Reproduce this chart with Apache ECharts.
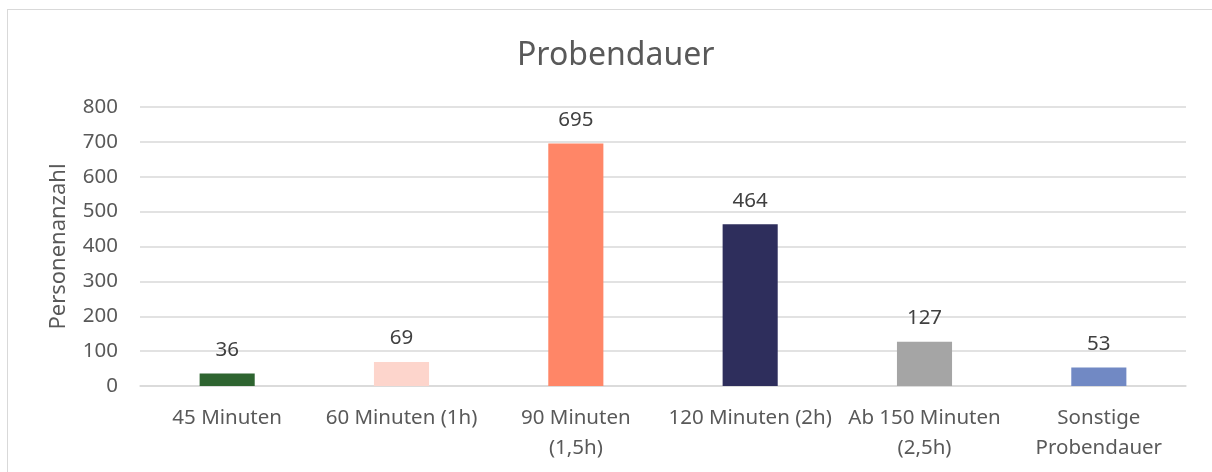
<!DOCTYPE html>
<html>
<head>
<meta charset="utf-8">
<script src="https://cdn.jsdelivr.net/npm/echarts@6/dist/echarts.min.js"></script>
<style>
  body { margin: 0; background: #fff; }
  #frame { position: absolute; left: 7px; top: 9px; width: 1230px; height: 490px; border: 1px solid #d9d9d9; }
  #chart { position: absolute; left: 0; top: 0; width: 1212px; height: 472px; }
</style>
</head>
<body>
<div id="frame"></div>
<div id="chart"></div>
<script>
// Daten
const categories = ['45 Minuten', '60 Minuten (1h)', '90 Minuten\n(1,5h)', '120 Minuten (2h)', 'Ab 150 Minuten\n(2,5h)', 'Sonstige\nProbendauer'];
const values = [36, 69, 695, 464, 127, 53];
const colors = ['#2e6430', '#fdd5cc', '#ff8667', '#2e2e5c', '#a5a5a5', '#7189c4'];

const chart = echarts.init(document.getElementById('chart'));
const font = '"Noto Sans", sans-serif';

chart.setOption({
  title: {
    text: 'Probendauer',
    left: 512,
    top: 35,
    textStyle: { fontFamily: font, fontSize: 32, fontWeight: 'normal', color: '#595959' }
  },
  grid: { left: 140, right: 26, top: 107, bottom: 86 },
  xAxis: {
    type: 'category',
    data: categories,
    axisLine: { lineStyle: { color: '#d9d9d9', width: 1.5 } },
    axisTick: { show: false },
    axisLabel: { fontFamily: font, fontSize: 20.5, color: '#595959', margin: 17, lineHeight: 30, interval: 0 }
  },
  yAxis: {
    type: 'value',
    min: 0,
    max: 800,
    interval: 100,
    name: 'Personenanzahl',
    nameLocation: 'middle',
    nameGap: 70,
    nameTextStyle: { fontFamily: font, fontSize: 22, color: '#595959' },
    axisLabel: { fontFamily: font, fontSize: 20.5, color: '#595959', margin: 22 },
    splitLine: { lineStyle: { color: '#d9d9d9', width: 1.5 } }
  },
  series: [{
    type: 'bar',
    barWidth: '31.6%',
    data: values.map((v, i) => ({ value: v, itemStyle: { color: colors[i] } })),
    label: {
      show: true,
      position: 'top',
      distance: 13,
      fontFamily: font,
      fontSize: 20.5,
      color: '#404040'
    }
  }]
});
</script>
</body>
</html>
